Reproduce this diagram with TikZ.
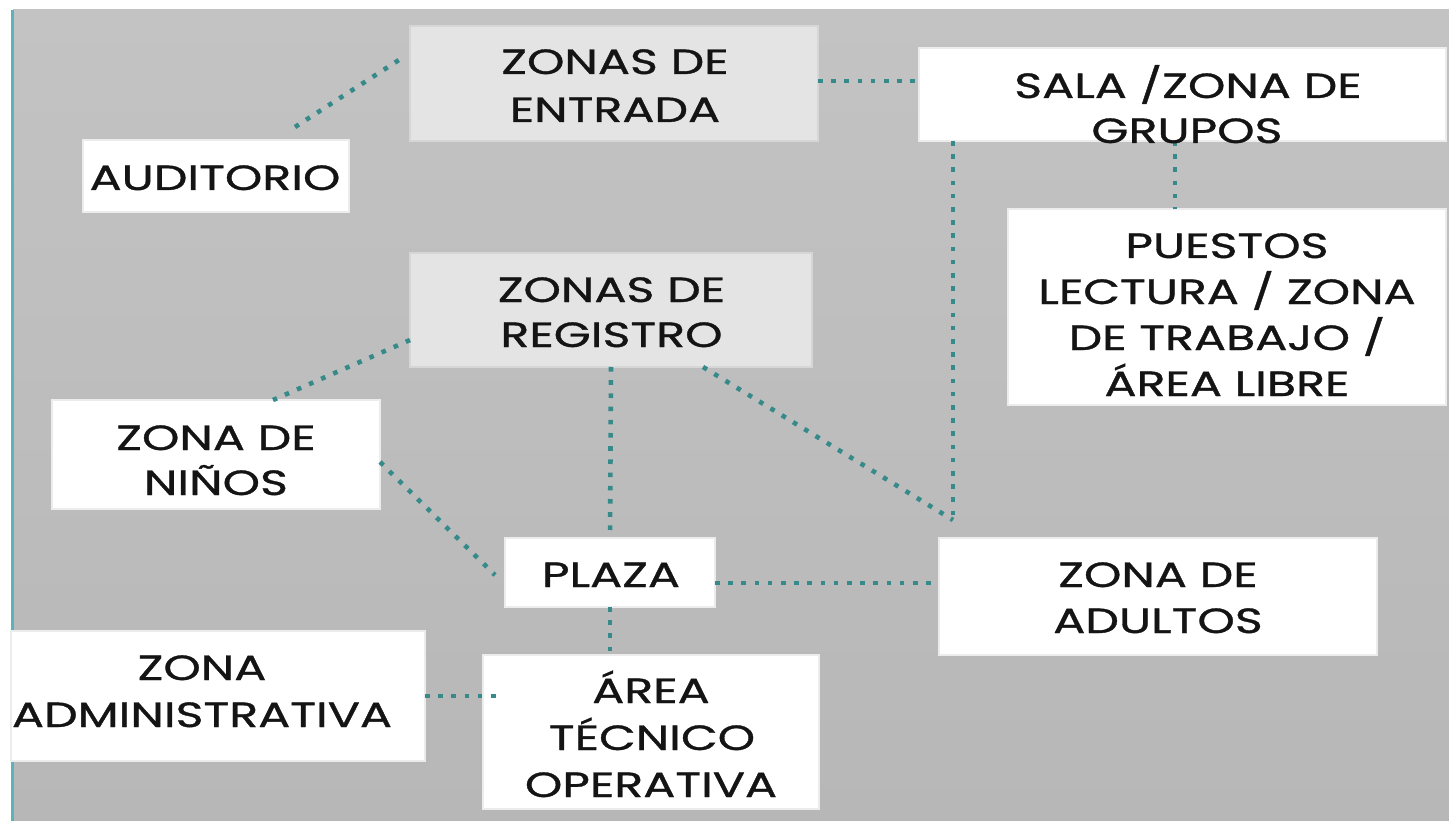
\documentclass[tikz,border=0pt]{standalone}
\usepackage{fontspec}
\newfontfamily\lblfont[FakeStretch=1.36,FakeBold=1.0]{Poppins}
\usetikzlibrary{calc}
\definecolor{bgtop}{RGB}{194,195,194}
\definecolor{bgbot}{RGB}{183,183,183}
\definecolor{tealdot}{RGB}{55,138,138}
\definecolor{tealedge}{RGB}{90,180,188}
\definecolor{lightbox}{RGB}{228,228,228}
\definecolor{lightedge}{RGB}{214,214,214}
\definecolor{whiteedge}{RGB}{236,236,236}
\definecolor{ink}{RGB}{20,20,20}
\begin{document}
\begin{tikzpicture}[x=1pt,y=-1pt,
  box/.style={rectangle, inner sep=0pt, outer sep=0pt, line width=1.5pt},
  wbox/.style={box, fill=white, draw=whiteedge},
  gbox/.style={box, fill=lightbox, draw=lightedge},
  lbl/.style={anchor=base, inner sep=0pt, text=ink, font=\lblfont\fontsize{35}{42}\selectfont},
  link/.style={draw=tealdot, line width=4.6pt, dash pattern=on 4.6pt off 8.6pt}]
\useasboundingbox (0,0) rectangle (1449,821);
\fill[white] (0,0) rectangle (1449,821);
\shade[top color=bgtop, bottom color=bgbot] (13,10) rectangle (1449,821);
\fill[tealedge] (10.5,10) rectangle (13.5,821);

% boxes
\node[gbox, minimum width=408, minimum height=115] (ent) at (614,83.5) {};
\node[wbox, minimum width=527, minimum height=93] (sala) at (1182.5,94.5) {};
\node[wbox, minimum width=266, minimum height=72] (aud) at (216,176) {};
\node[gbox, minimum width=402, minimum height=114] (reg) at (611,310) {};
\node[wbox, minimum width=438, minimum height=196] (pue) at (1227,307) {};
\node[wbox, minimum width=328, minimum height=109] (nin) at (216,454.5) {};
\node[wbox, minimum width=210, minimum height=69] (pla) at (610,572.5) {};
\node[wbox, minimum width=438, minimum height=117] (adu) at (1158,596.5) {};
\node[wbox, minimum width=414, minimum height=130] (adm) at (218,696) {};
\node[wbox, minimum width=336, minimum height=154] (are) at (651,732) {};

% connectors
\coordinate (j) at (953,520);
\coordinate (sp) at (1175,0);
\coordinate (e1) at ([yshift=2.5pt]ent.east);
\coordinate (p1) at ([yshift=-10.5pt]pla.east);
\draw[link] ([xshift=-54pt,yshift=13pt]aud.north east) -- ([xshift=-8pt,yshift=25.5pt]ent.west);
\draw[link] (e1) -- (sala.west |- e1);
\draw[link] (j |- sala.south) -- (j);
\draw[link] ([xshift=92pt]reg.south) -- (j);
\draw[link] (sp |- sala.south) -- (sp |- pue.north);
\draw[link] ([yshift=-30pt]reg.west) -- ([xshift=57pt]nin.north);
\draw[link] (reg.south) -- (pla.north);
\draw[link] ([yshift=-7.5pt]nin.east) -- ([xshift=-10pt,yshift=-2.5pt]pla.west);
\draw[link] (p1) -- (adu.west |- p1);
\draw[link] (pla.south) -- (pla.south |- are.north);
\draw[link] (adm.east) -- ([xshift=14pt]are.west |- adm.east);

% labels
\node[lbl] (entA) at (615,74) {ZONAS DE};
\node[lbl] (entB) at (615,122) {ENTRADA};
\node[lbl] (audA) at (215,190) {AUDITORIO};
\node[lbl] (salaA) at (1188,98) {SALA /ZONA DE};
\node[lbl] (salaB) at (1187,143) {GRUPOS};
\node[lbl] (regA) at (611.5,302) {ZONAS DE};
\node[lbl] (regB) at (611.5,347) {REGISTRO};
\node[lbl] (pueA) at (1227,258) {PUESTOS};
\node[lbl] (pueB) at (1227,304) {LECTURA / ZONA};
\node[lbl] (pueC) at (1227,350) {DE TRABAJO /};
\node[lbl] (pueD) at (1227,396) {ÁREA LIBRE};
\node[lbl] (ninA) at (216,450) {ZONA DE};
\node[lbl] (ninB) at (216,495) {NIÑOS};
\node[lbl] (plaA) at (611,587) {PLAZA};
\node[lbl] (aduA) at (1158,587) {ZONA DE};
\node[lbl] (aduB) at (1158,633) {ADULTOS};
\node[lbl] (admA) at (202,680) {ZONA};
\node[lbl] (admB) at (202,727) {ADMINISTRATIVA};
\node[lbl] (areA) at (651,703) {ÁREA};
\node[lbl] (areB) at (652,750) {TÉCNICO};
\node[lbl] (areC) at (651,797) {OPERATIVA};
\end{tikzpicture}
\end{document}
